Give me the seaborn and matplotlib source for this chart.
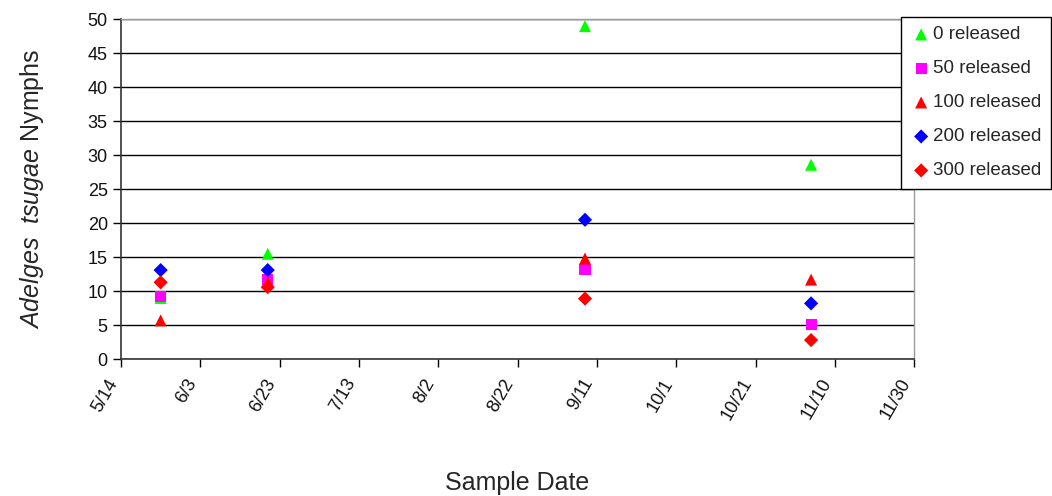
import pandas as pd
import matplotlib
matplotlib.use("Agg")
import matplotlib.pyplot as plt
import matplotlib.dates as mdates
import seaborn as sns

# sample dates (year is arbitrary, only month/day shown)
sample_dates = pd.to_datetime(["2004-05-24", "2004-06-20", "2004-09-08", "2004-11-04"])

released_0 = [9.0, 15.5, 49.0, 28.6]
released_50 = [9.2, 11.7, 13.2, 5.1]
released_100 = [5.7, 11.3, 14.8, 11.7]
released_200 = [13.1, 13.1, 20.5, 8.2]
released_300 = [11.3, 10.6, 8.9, 2.8]

series_names = ["0 released", "50 released", "100 released", "200 released", "300 released"]
tick_dates = pd.date_range("2004-05-14", "2004-11-30", freq="20D")

sns.set_style("white")
plt.rcParams["font.family"] = ["Liberation Sans", "DejaVu Sans"]
plt.rcParams["mathtext.fontset"] = "custom"
plt.rcParams["mathtext.it"] = "Liberation Sans:italic"
plt.rcParams["mathtext.rm"] = "Liberation Sans"

styles = [
    ("#00ff00", "^", 75),
    ("#ff00ff", "s", 64),
    ("#ff0000", "^", 75),
    ("#0000ff", "D", 52),
    ("#ff0000", "D", 52),
]
all_values = [released_0, released_50, released_100, released_200, released_300]

fig = plt.figure(figsize=(10.52, 4.96), dpi=100)
ax = fig.add_axes([0.115, 0.276, 0.754, 0.685])

for name, vals, (col, mk, sz) in zip(series_names, all_values, styles):
    df = pd.DataFrame({"date": sample_dates, "count": vals})
    sns.scatterplot(data=df, x="date", y="count", color=col, marker=mk, s=sz,
                    edgecolor="none", label=name, ax=ax, zorder=3)

ax.set_ylim(0, 50)
ax.set_yticks(range(0, 51, 5))
ax.set_xlim(tick_dates[0], tick_dates[-1])
ax.set_xticks(tick_dates)
ax.xaxis.set_major_formatter(mdates.DateFormatter("%-m/%-d"))
ax.grid(axis="y", color="black", lw=1)
ax.set_axisbelow(True)

ax.tick_params(axis="both", labelsize=13, direction="out", length=6, width=1,
               color="black", bottom=True, left=True, labelcolor="#111111")
ax.tick_params(axis="x", pad=6)
for lbl in ax.get_xticklabels():
    lbl.set_rotation(60)
    lbl.set_ha("right")

for s in ["left", "bottom"]:
    ax.spines[s].set_color("#333333")
    ax.spines[s].set_linewidth(1.2)
for s in ["top", "right"]:
    ax.spines[s].set_color("#999999")
    ax.spines[s].set_linewidth(1)

ax.set_xlabel("Sample Date", fontsize=18, labelpad=34)
ax.set_ylabel(r"$Adelges\ \ tsugae$ Nymphs", fontsize=18, labelpad=30)

leg = ax.legend(loc="upper left", bbox_to_anchor=(0.856, 0.966),
                bbox_transform=fig.transFigure, fontsize=13.5, frameon=True,
                fancybox=False, edgecolor="black", labelspacing=0.9,
                handletextpad=0.05, borderpad=0.5, handlelength=1.2,
                borderaxespad=0, framealpha=1)
leg.get_frame().set_linewidth(1)

fig.savefig("out.png", dpi=100)
